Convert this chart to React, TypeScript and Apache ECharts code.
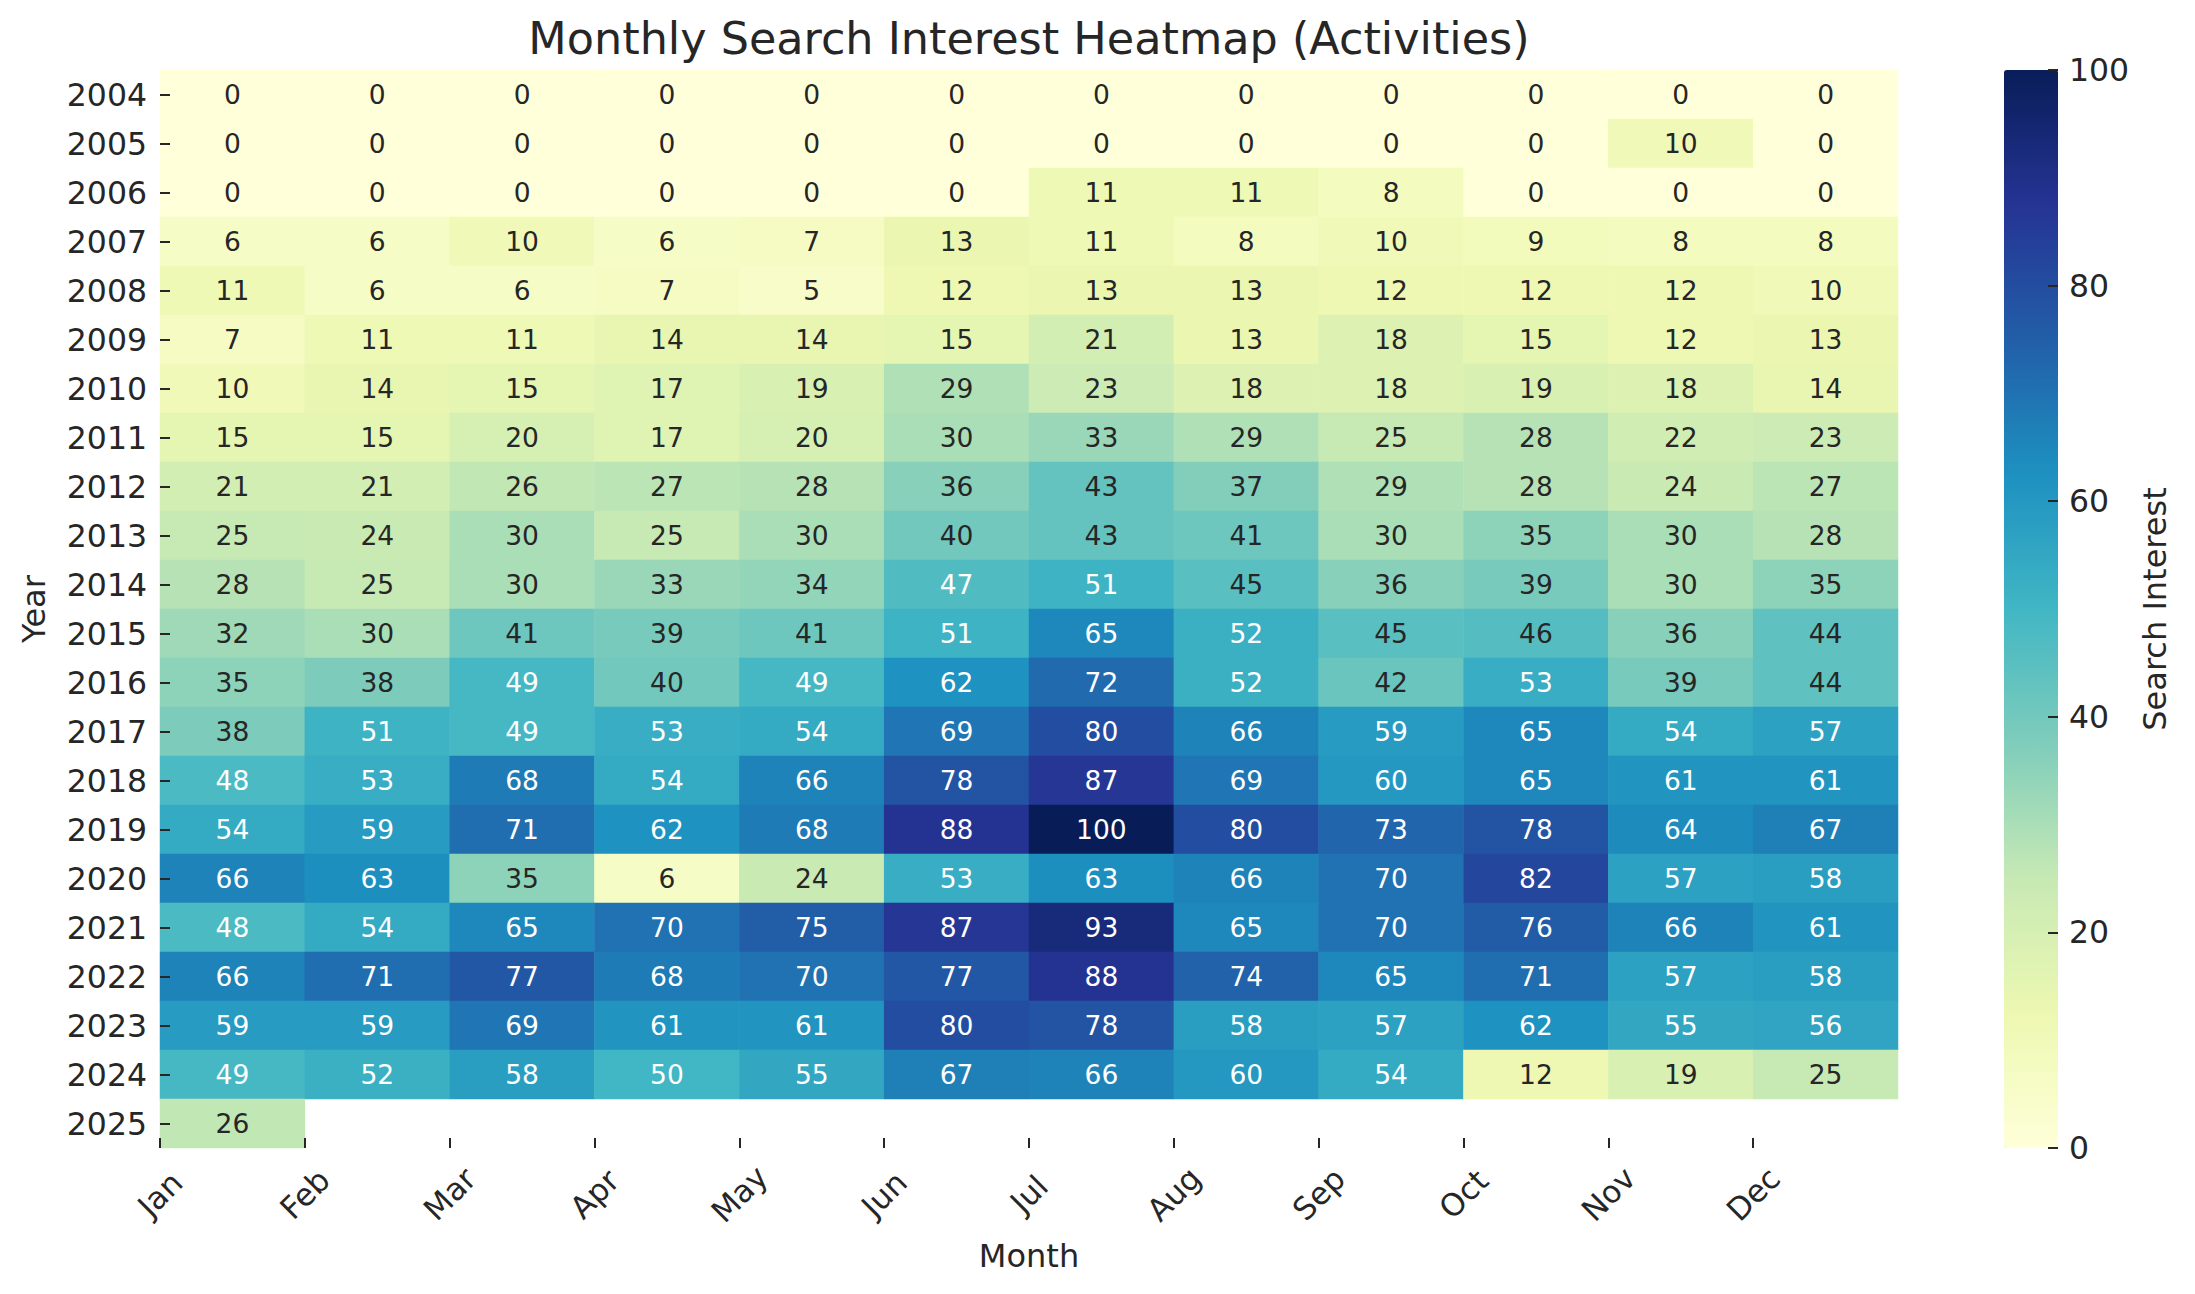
import React, { useEffect, useRef } from "react";
import * as echarts from "echarts";

const months = ["Jan", "Feb", "Mar", "Apr", "May", "Jun", "Jul", "Aug", "Sep", "Oct", "Nov", "Dec"];
const years = ["2004", "2005", "2006", "2007", "2008", "2009", "2010", "2011", "2012", "2013", "2014",
  "2015", "2016", "2017", "2018", "2019", "2020", "2021", "2022", "2023", "2024", "2025"];

const y2004 = [0, 0, 0, 0, 0, 0, 0, 0, 0, 0, 0, 0];
const y2005 = [0, 0, 0, 0, 0, 0, 0, 0, 0, 0, 10, 0];
const y2006 = [0, 0, 0, 0, 0, 0, 11, 11, 8, 0, 0, 0];
const y2007 = [6, 6, 10, 6, 7, 13, 11, 8, 10, 9, 8, 8];
const y2008 = [11, 6, 6, 7, 5, 12, 13, 13, 12, 12, 12, 10];
const y2009 = [7, 11, 11, 14, 14, 15, 21, 13, 18, 15, 12, 13];
const y2010 = [10, 14, 15, 17, 19, 29, 23, 18, 18, 19, 18, 14];
const y2011 = [15, 15, 20, 17, 20, 30, 33, 29, 25, 28, 22, 23];
const y2012 = [21, 21, 26, 27, 28, 36, 43, 37, 29, 28, 24, 27];
const y2013 = [25, 24, 30, 25, 30, 40, 43, 41, 30, 35, 30, 28];
const y2014 = [28, 25, 30, 33, 34, 47, 51, 45, 36, 39, 30, 35];
const y2015 = [32, 30, 41, 39, 41, 51, 65, 52, 45, 46, 36, 44];
const y2016 = [35, 38, 49, 40, 49, 62, 72, 52, 42, 53, 39, 44];
const y2017 = [38, 51, 49, 53, 54, 69, 80, 66, 59, 65, 54, 57];
const y2018 = [48, 53, 68, 54, 66, 78, 87, 69, 60, 65, 61, 61];
const y2019 = [54, 59, 71, 62, 68, 88, 100, 80, 73, 78, 64, 67];
const y2020 = [66, 63, 35, 6, 24, 53, 63, 66, 70, 82, 57, 58];
const y2021 = [48, 54, 65, 70, 75, 87, 93, 65, 70, 76, 66, 61];
const y2022 = [66, 71, 77, 68, 70, 77, 88, 74, 65, 71, 57, 58];
const y2023 = [59, 59, 69, 61, 61, 80, 78, 58, 57, 62, 55, 56];
const y2024 = [49, 52, 58, 50, 55, 67, 66, 60, 54, 12, 19, 25];
const y2025 = [26];

const rows = [y2004, y2005, y2006, y2007, y2008, y2009, y2010, y2011, y2012, y2013, y2014,
  y2015, y2016, y2017, y2018, y2019, y2020, y2021, y2022, y2023, y2024, y2025];

const ylgnbu = ["#ffffd9", "#edf8b1", "#c7e9b4", "#7fcdbb", "#41b6c4", "#1d91c0", "#225ea8", "#253494", "#081d58"];

const FONT = "DejaVu Sans";
const TEXT = "#262626";
const WHITE_FROM = 47;

export default function App() {
  const ref = useRef<HTMLDivElement>(null);
  useEffect(() => {
    if (!ref.current) return;
    const chart = echarts.init(ref.current, undefined, { renderer: "svg" });
    const data: any[] = [];
    rows.forEach((row, yi) => {
      row.forEach((v, xi) => {
        data.push({
          value: [xi, yi, v],
          label: { color: v >= WHITE_FROM ? "#ffffff" : TEXT },
        });
      });
    });
    const L = 160, T = 70, W = 1738, H = 1078;
    const CBL = 2004, CBW = 54;
    chart.setOption({
      animation: false,
      backgroundColor: "#ffffff",
      textStyle: { fontFamily: FONT },
      grid: [
        { left: L, top: T, width: W, height: H },
        { left: CBL, top: T, width: CBW, height: H },
      ],
      xAxis: [
        {
          type: "category", gridIndex: 0, data: months,
          axisLine: { show: false }, axisTick: { show: false }, axisLabel: { show: false },
          splitLine: { show: false },
        },
        {
          type: "value", gridIndex: 0, min: 0, max: 12, position: "bottom", z: 10,
          axisLine: { show: false, onZero: false }, splitLine: { show: false },
          axisTick: { show: true, inside: true, length: 10, customValues: months.map((_, i) => i), lineStyle: { color: TEXT, width: 2 } },
          axisLabel: {
            show: true, customValues: months.map((_, i) => i),
            formatter: (v: number) => months[v] ?? "",
            rotate: 45, align: "center", verticalAlign: "middle", margin: 46,
            fontSize: 31, color: TEXT, fontFamily: FONT,
          },
        },
        { type: "value", gridIndex: 1, show: false, min: 0, max: 1 },
      ],
      yAxis: [
        {
          type: "category", gridIndex: 0, data: years, inverse: true, z: 10,
          axisLine: { show: false }, splitLine: { show: false },
          axisTick: { show: true, inside: true, length: 10, alignWithLabel: true, lineStyle: { color: TEXT, width: 2 } },
          axisLabel: { margin: 13, fontSize: 31.5, color: TEXT, fontFamily: FONT },
        },
        {
          type: "value", gridIndex: 1, min: 0, max: 100, interval: 20, position: "right", z: 10,
          axisLine: { show: false, onZero: false }, splitLine: { show: false },
          axisTick: { show: true, inside: true, length: 10, lineStyle: { color: TEXT, width: 2 } },
          axisLabel: {
            margin: 11, fontSize: 31.5, color: TEXT, fontFamily: FONT,
          },
        },
      ],
      visualMap: {
        type: "continuous", min: 0, max: 100, dimension: 2, seriesIndex: 0,
        left: CBL, top: T, itemWidth: CBW, itemHeight: H, padding: 0, z: 2,
        calculable: false, orient: "vertical", text: null, showLabel: false,
        inRange: { color: ylgnbu },
      },
      series: [
        {
          type: "heatmap", xAxisIndex: 0, yAxisIndex: 0, data,
          label: { show: true, fontSize: 26.5, fontFamily: FONT, formatter: (p: any) => String(p.value[2]) },
          itemStyle: { borderWidth: 0 },
          emphasis: { disabled: true },
        },
      ],
      graphic: [
        {
          type: "text", x: L + W / 2, y: 38,
          style: { text: "Monthly Search Interest Heatmap (Activities)", fontSize: 44.5, fontFamily: FONT, fill: TEXT, textAlign: "center", textVerticalAlign: "middle" },
        },
        {
          type: "text", x: L + W / 2, y: 1256,
          style: { text: "Month", fontSize: 32, fontFamily: FONT, fill: TEXT, textAlign: "center", textVerticalAlign: "middle" },
        },
        {
          type: "text", x: 34, y: T + H / 2, rotation: Math.PI / 2,
          style: { text: "Year", fontSize: 32, fontFamily: FONT, fill: TEXT, textAlign: "center", textVerticalAlign: "middle" },
        },
        {
          type: "text", x: 2155, y: T + H / 2, rotation: Math.PI / 2,
          style: { text: "Search Interest", fontSize: 32, fontFamily: FONT, fill: TEXT, textAlign: "center", textVerticalAlign: "middle" },
        },
      ],
    });
    return () => chart.dispose();
  }, []);
  return <div ref={ref} style={{ position: "fixed", left: 0, top: 0, width: 2195, height: 1294 }} />;
}
